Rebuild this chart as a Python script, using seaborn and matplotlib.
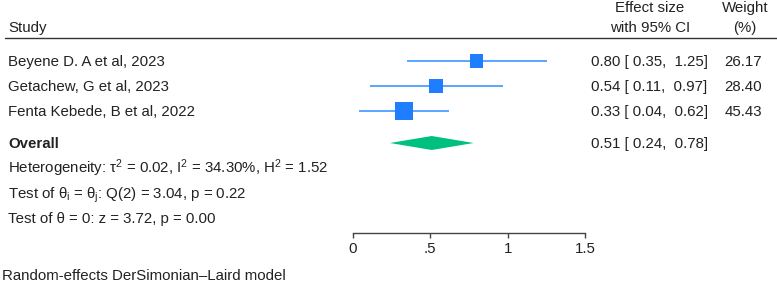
import numpy as np
import pandas as pd
import matplotlib
matplotlib.use("Agg")
import matplotlib.pyplot as plt
import matplotlib.transforms as mtransforms
import seaborn as sns

# study data
studies = ["Beyene D. A et al, 2023", "Getachew, G et al, 2023", "Fenta Kebede, B et al, 2022"]
effect = [0.80, 0.54, 0.33]
ci_low = [0.35, 0.11, 0.04]
ci_high = [1.25, 0.97, 0.62]
weight = [26.17, 28.40, 45.43]

# pooled estimate
overall_es = 0.51
overall_low = 0.24
overall_high = 0.78

stats_lines = [
    r"Heterogeneity: τ$^2$ = 0.02, I$^2$ = 34.30%, H$^2$ = 1.52",
    r"Test of θ$_\mathrm{i}$ = θ$_\mathrm{j}$: Q(2) = 3.04, p = 0.22",
    "Test of θ = 0: z = 3.72, p = 0.00",
]
tick_vals = [0, 0.5, 1, 1.5]
tick_labels = ["0", ".5", "1", "1.5"]
footnote = "Random-effects DerSimonian–Laird model"

sns.set_style("white")
plt.rcParams["font.family"] = ["Liberation Sans", "DejaVu Sans"]
plt.rcParams["mathtext.fontset"] = "custom"
plt.rcParams["mathtext.rm"] = "Liberation Sans"
plt.rcParams["mathtext.it"] = "Liberation Sans:italic"

W, H = 777, 285
fig = plt.figure(figsize=(W / 100, H / 100), dpi=100)

# axes placed so that the x axis runs 0..1.5 under the plot column
x0_px, x1_px, axis_px = 352.7, 585.3, 232.7
ax = fig.add_axes([x0_px / W, (H - axis_px) / H, (x1_px - x0_px) / W, axis_px / H])

# rows: one unit = 25 px, row 0 just under the header
def row_of(px):
    return (px - 36) / 25.0

study_rows = [1, 2, 3]
overall_row = row_of(143)
stat_rows = [row_of(168), row_of(193), row_of(218)]

df = pd.DataFrame({"study": studies, "es": effect, "lo": ci_low, "hi": ci_high,
                   "weight": weight, "row": study_rows})

# confidence intervals
ax.hlines(df["row"], df["lo"], df["hi"], color="#3d97ff", lw=1.2, zorder=2)
# weighted squares
sizes = {w: 3.6 * w for w in weight}
sns.scatterplot(data=df, x="es", y="row", size="weight", sizes=sizes, marker="s",
                color="#1f7dff", linewidth=0, legend=False, ax=ax, zorder=3)

# overall diamond
hh = 7 / 25.0
ax.fill([overall_low, overall_es, overall_high, overall_es],
        [overall_row, overall_row - hh, overall_row, overall_row + hh],
        color="#00c07f", lw=0, zorder=3)

ax.set_xlim(0, 1.5)
ax.set_ylim(row_of(axis_px), row_of(0))
ax.set_xticks(tick_vals)
ax.set_xticklabels(tick_labels)
ax.set_yticks([])
ax.set_xlabel("")
ax.set_ylabel("")
for s in ["top", "left", "right"]:
    ax.spines[s].set_visible(False)
ax.spines["bottom"].set_color("#444444")
ax.spines["bottom"].set_linewidth(1)
ax.tick_params(axis="x", direction="out", length=3.6, width=1, color="#444444",
               pad=3, labelsize=10.8, labelcolor="#222222", bottom=True)

# text columns: x in pixels of the figure, y in rows
tr = mtransforms.blended_transform_factory(fig.transFigure, ax.transData)
off = 5.3 / 25.0  # half cap height, baseline offset
fs = 10.8
tc = "#222222"

def put(px, row, s, ha="left", **kw):
    ax.text(px / W, row + off, s, transform=tr, ha=ha, va="baseline",
            fontsize=fs, color=tc, clip_on=False, **kw)

put(8, row_of(27), "Study")
put(650, row_of(7), "Effect size", ha="center")
put(650, row_of(27), "with 95% CI", ha="center")
put(745, row_of(7), "Weight", ha="center")
put(745, row_of(27), "(%)", ha="center")

ax.axhline(row_of(38.3), xmin=(5 - x0_px) / (x1_px - x0_px), xmax=(777 - x0_px) / (x1_px - x0_px),
           color="#333333", lw=1, clip_on=False)

for r in df.itertuples():
    put(8, r.row, r.study)
    put(591, r.row, f"{r.es:.2f} [ {r.lo:.2f},  {r.hi:.2f}]")
    put(762, r.row, f"{r.weight:.2f}", ha="right")

put(8, overall_row, "Overall", fontweight="bold")
put(591, overall_row, f"{overall_es:.2f} [ {overall_low:.2f},  {overall_high:.2f}]")

for line, rr in zip(stats_lines, stat_rows):
    put(8, rr, line)

put(2, row_of(275), footnote)

fig.savefig("out.png", dpi=100)
